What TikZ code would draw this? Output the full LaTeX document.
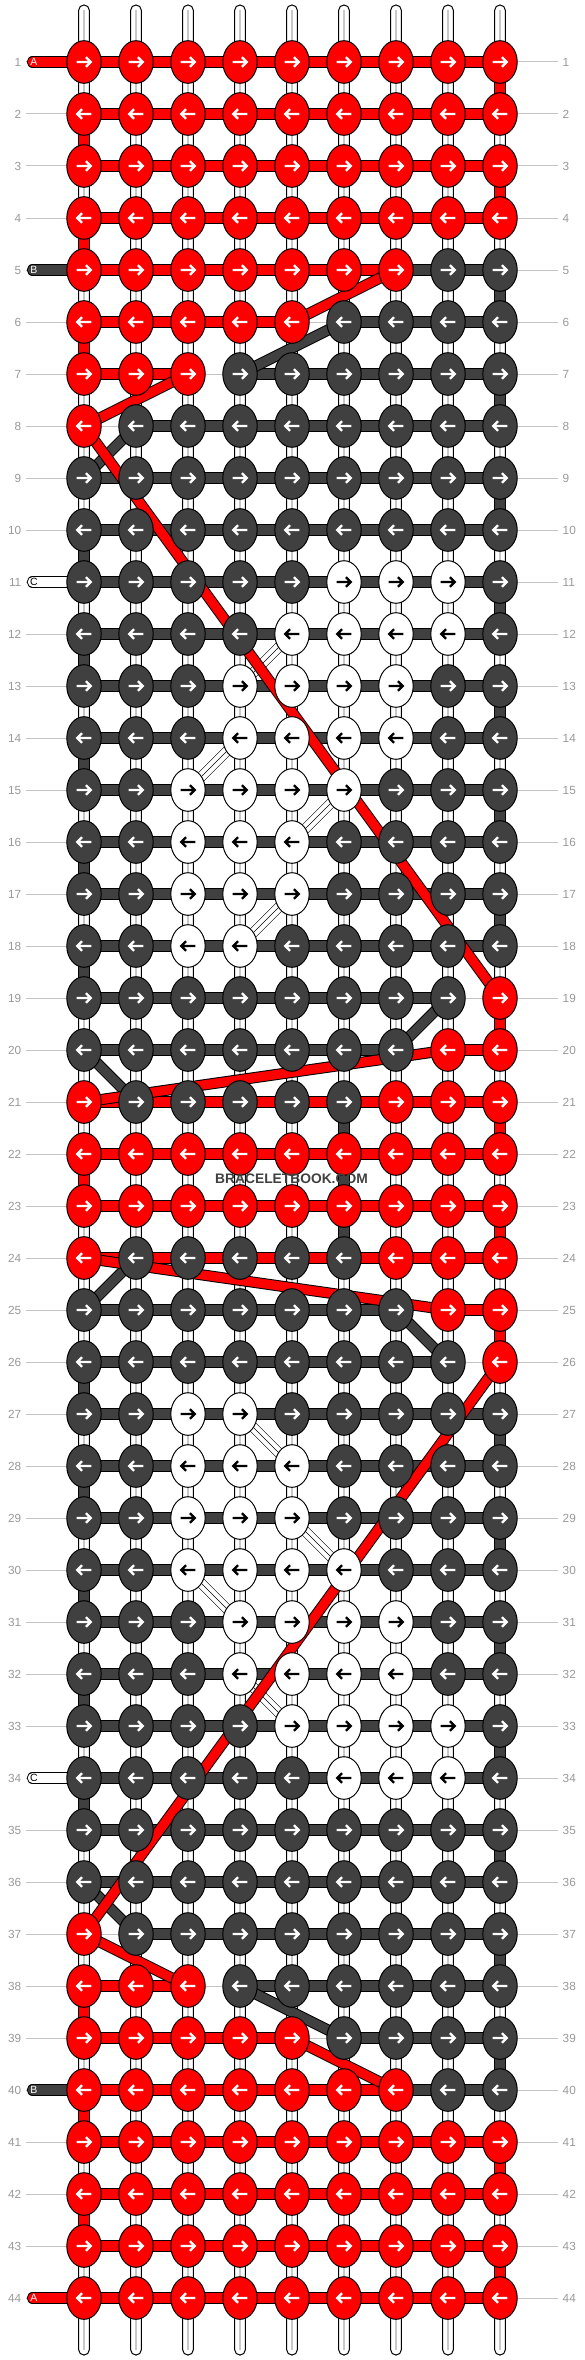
\documentclass[tikz,border=0pt]{standalone}
\usepackage{fontspec}
\setmainfont{Liberation Sans}
\usetikzlibrary{shapes.geometric}
\definecolor{cR}{HTML}{FF0000}
\definecolor{cD}{HTML}{404040}
\definecolor{cW}{HTML}{FFFFFF}
\definecolor{aR}{HTML}{FFFFFF}
\definecolor{aD}{HTML}{FFFFFF}
\definecolor{aW}{HTML}{000000}
\definecolor{guidegray}{HTML}{C4C4C4}
\definecolor{labelgray}{HTML}{999999}
\definecolor{stringgray}{HTML}{C8C8C8}
\pgfdeclarelayer{bg}
\pgfdeclarelayer{mid}
\pgfsetlayers{bg,mid,main}
\begin{document}
\begin{tikzpicture}[x=1pt,y=-1pt,
  knot/.style={ellipse, draw=black, line width=1pt, fill=#1, minimum width=34.4pt, minimum height=42.6pt, inner sep=0pt, outer sep=0pt},
  arr/.style={line width=2.3pt, draw=#1, line join=miter},
  band/.style={draw=black, line width=1pt, double=#1, double distance=9.2pt},
  wband/.style={draw=black, line width=0.6pt, double=white, double distance=9pt},
  wbandmid/.style={draw=black, line width=0.4pt},
  strand/.style={draw=black, fill=white, line width=1pt, rounded corners=5.2pt},
  strandmid/.style={draw=stringgray, line width=1.3pt},
  guide/.style={draw=guidegray, line width=1pt},
  lbl/.style={text=labelgray, font=\fontsize{11.8}{12}\selectfont, inner sep=0pt},
  leadtxt/.style={text=#1, font=\fontsize{10.5}{11}\selectfont, inner sep=0pt},
  wmark/.style={text=cD, font=\bfseries\fontsize{13.8}{14}\selectfont, inner sep=0pt}]
\useasboundingbox (0,0) rectangle (584,2360);
\begin{pgfonlayer}{bg}
\fill[white] (0,0) rectangle (584,2360);
\end{pgfonlayer}
\foreach \r/\ks/\bs in {
 1/{R,R,R,R,R,R,R,R,R}/{R,R,R,R,R,R,R,R},
 2/{R,R,R,R,R,R,R,R,R}/{R,R,R,R,R,R,R,R},
 3/{R,R,R,R,R,R,R,R,R}/{R,R,R,R,R,R,R,R},
 4/{R,R,R,R,R,R,R,R,R}/{R,R,R,R,R,R,R,R},
 5/{R,R,R,R,R,R,R,D,D}/{R,R,R,R,R,R,D,D},
 6/{R,R,R,R,R,D,D,D,D}/{R,R,R,R,N,D,D,D},
 7/{R,R,R,D,D,D,D,D,D}/{R,R,N,D,D,D,D,D},
 8/{R,D,D,D,D,D,D,D,D}/{N,D,D,D,D,D,D,D},
 9/{D,D,D,D,D,D,D,D,D}/{D,D,D,D,D,D,D,D},
 10/{D,D,D,D,D,D,D,D,D}/{D,D,D,D,D,D,D,D},
 11/{D,D,D,D,D,W,W,W,D}/{D,D,D,D,D,D,D,D},
 12/{D,D,D,D,W,W,W,W,D}/{D,D,D,D,D,D,D,D},
 13/{D,D,D,W,W,W,W,D,D}/{D,D,D,D,D,D,D,D},
 14/{D,D,D,W,W,W,W,D,D}/{D,D,D,D,D,D,D,D},
 15/{D,D,W,W,W,W,D,D,D}/{D,D,D,D,D,D,D,D},
 16/{D,D,W,W,W,D,D,D,D}/{D,D,D,D,D,D,D,D},
 17/{D,D,W,W,W,D,D,D,D}/{D,D,D,D,D,D,D,D},
 18/{D,D,W,W,D,D,D,D,D}/{D,D,D,D,D,D,D,D},
 19/{D,D,D,D,D,D,D,D,R}/{D,D,D,D,D,D,D,N},
 20/{D,D,D,D,D,D,D,R,R}/{D,D,D,D,D,D,N,R},
 21/{R,D,D,D,D,D,R,R,R}/{R,R,R,R,R,R,R,R},
 22/{R,R,R,R,R,R,R,R,R}/{R,R,R,R,R,R,R,R},
 23/{R,R,R,R,R,R,R,R,R}/{R,R,R,R,R,R,R,R},
 24/{R,D,D,D,D,D,R,R,R}/{R,R,R,R,R,R,R,R},
 25/{D,D,D,D,D,D,D,R,R}/{D,D,D,D,D,D,N,R},
 26/{D,D,D,D,D,D,D,D,R}/{D,D,D,D,D,D,D,N},
 27/{D,D,W,W,D,D,D,D,D}/{D,D,D,D,D,D,D,D},
 28/{D,D,W,W,W,D,D,D,D}/{D,D,D,D,D,D,D,D},
 29/{D,D,W,W,W,D,D,D,D}/{D,D,D,D,D,D,D,D},
 30/{D,D,W,W,W,W,D,D,D}/{D,D,D,D,D,D,D,D},
 31/{D,D,D,W,W,W,W,D,D}/{D,D,D,D,D,D,D,D},
 32/{D,D,D,W,W,W,W,D,D}/{D,D,D,D,D,D,D,D},
 33/{D,D,D,D,W,W,W,W,D}/{D,D,D,D,D,D,D,D},
 34/{D,D,D,D,D,W,W,W,D}/{D,D,D,D,D,D,D,D},
 35/{D,D,D,D,D,D,D,D,D}/{D,D,D,D,D,D,D,D},
 36/{D,D,D,D,D,D,D,D,D}/{D,D,D,D,D,D,D,D},
 37/{R,D,D,D,D,D,D,D,D}/{N,D,D,D,D,D,D,D},
 38/{R,R,R,D,D,D,D,D,D}/{R,R,N,D,D,D,D,D},
 39/{R,R,R,R,R,D,D,D,D}/{R,R,R,R,N,D,D,D},
 40/{R,R,R,R,R,R,R,D,D}/{R,R,R,R,R,R,D,D},
 41/{R,R,R,R,R,R,R,R,R}/{R,R,R,R,R,R,R,R},
 42/{R,R,R,R,R,R,R,R,R}/{R,R,R,R,R,R,R,R},
 43/{R,R,R,R,R,R,R,R,R}/{R,R,R,R,R,R,R,R},
 44/{R,R,R,R,R,R,R,R,R}/{R,R,R,R,R,R,R,R}}{
  \pgfmathsetmacro\yy{62+52*(\r-1)}
  \ifodd\r\relax\def\dir{1}\else\def\dir{-1}\fi
  \begin{pgfonlayer}{bg}
    \coordinate (gl-\r) at (26,\yy);
    \coordinate (gr-\r) at (558,\yy);
    \draw[guide] (gl-\r) -- (gr-\r);
  \end{pgfonlayer}
  \node[lbl,anchor=east] (ll-\r) at (21.5,\yy) {\r};
  \node[lbl,anchor=west] (lr-\r) at (562.5,\yy) {\r};
  \foreach \k [count=\c] in \ks {
    \node[knot=c\k] (k-\r-\c) at ({84+52*(\c-1)},\yy) {};
    \draw[arr=a\k, shift={(k-\r-\c.center)}, xscale=\dir] (-7.3,0) -- (6.3,0) (1.9,-4.8) -- (6.7,0) -- (1.9,4.8);
  }
  \begin{pgfonlayer}{mid}
  \foreach \b [count=\c] in \bs {
    \if\b N\else
      \pgfmathtruncatemacro\cn{\c+1}
      \draw[band=c\b] (k-\r-\c.center) -- (k-\r-\cn.center);
    \fi
  }
  \end{pgfonlayer}
}
% vertical strings
\begin{pgfonlayer}{bg}
\foreach \c in {1,...,9}{
  \pgfmathsetmacro\xx{84+52*(\c-1)}
  \coordinate (st-\c) at (\xx,5);
  \coordinate (sb-\c) at (\xx,2355);
  \draw[strand] ([xshift=-5.3pt]st-\c) rectangle ([xshift=5.3pt]sb-\c);
  \draw[strandmid] ([yshift=-5pt]st-\c) -- ([yshift=5pt]sb-\c);
}
\end{pgfonlayer}
\begin{pgfonlayer}{mid}
% turning strings at the edges
\foreach \ra/\cc/\cl in {1/9/cR,2/1/cR,3/9/cR,4/1/cR,5/9/cD,6/1/cR,7/9/cD,
  9/9/cD,10/1/cD,11/9/cD,12/1/cD,13/9/cD,14/1/cD,15/9/cD,16/1/cD,17/9/cD,18/1/cD,
  19/9/cR,21/9/cR,21/6/cD,22/1/cR,22/6/cD,23/9/cR,23/6/cD,25/9/cR,
  26/1/cD,27/9/cD,28/1/cD,29/9/cD,30/1/cD,31/9/cD,32/1/cD,33/9/cD,34/1/cD,35/9/cD,
  37/9/cD,38/1/cR,39/9/cD,40/1/cR,41/9/cR,42/1/cR,43/9/cR}{
  \pgfmathtruncatemacro\rb{\ra+1}
  \draw[band=\cl] (k-\ra-\cc.center) -- (k-\rb-\cc.center);
}
% carried white strand
\foreach \ra/\ca/\rb/\cb in {12/5/13/4,14/4/15/3,15/6/16/5,17/5/18/4,
  27/4/28/5,29/5/30/6,30/3/31/4,32/4/33/5}{
  \draw[wband] (k-\ra-\ca.center) -- (k-\rb-\cb.center);
  \draw[wbandmid] (k-\ra-\ca.center) -- (k-\rb-\cb.center);
}
% carried red and dark strands
\foreach \ra/\ca/\rb/\cb/\cl in {6/6/7/4/cD,8/2/9/1/cD,19/8/20/7/cD,20/1/21/2/cD,
  24/2/25/1/cD,25/7/26/8/cD,36/1/37/2/cD,38/4/39/6/cD,
  5/7/6/5/cR,7/3/8/1/cR,8/1/19/9/cR,20/8/21/1/cR,24/1/25/8/cR,26/9/37/1/cR,
  37/1/38/3/cR,39/5/40/7/cR}{
  \draw[band=\cl] (k-\ra-\ca.center) -- (k-\rb-\cb.center);
}
% leads
\foreach \ra/\cl/\txt/\tc in {1/cR/A/white,5/cD/B/white,11/cW/C/black,34/cW/C/black,40/cD/B/white,44/cR/A/white}{
  \pgfmathsetmacro\yy{62+52*(\ra-1)}
  \coordinate (lead-\ra) at (32.4,\yy);
  \draw[band=\cl, line cap=round] (lead-\ra) -- (k-\ra-1.center);
  \node[leadtxt=\tc] (lt-\ra) at (33.8,\yy) {\txt};
}
\end{pgfonlayer}
\node[wmark] (wm) at (291.5,1179) {BRACELETBOOK.COM};
\end{tikzpicture}
\end{document}
